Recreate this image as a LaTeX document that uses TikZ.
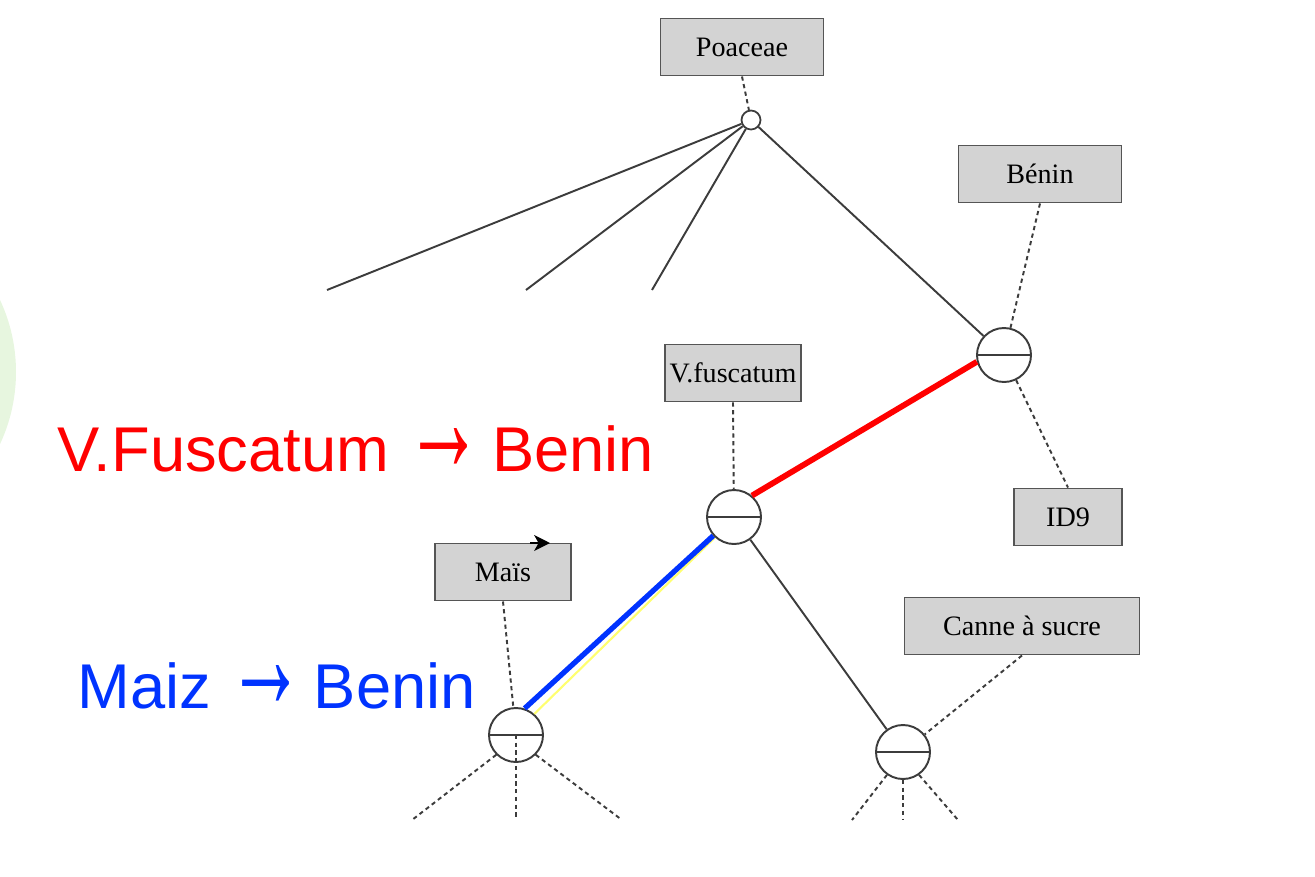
\documentclass[tikz,border=0pt]{standalone}
\usepackage{fontspec}
\usepackage{graphicx}
\setmainfont{Liberation Serif}
\newfontfamily\labelfont{Liberation Sans}
\usetikzlibrary{arrows.meta}
\definecolor{boxfill}{HTML}{D3D3D3}
\definecolor{boxline}{HTML}{555555}
\definecolor{edgecol}{HTML}{3C3C3C}
\definecolor{vfred}{HTML}{FF0000}
\definecolor{mzblue}{HTML}{0033FF}
\definecolor{mzyellow}{HTML}{FFFF70}
\definecolor{bgreen}{HTML}{E7F6DF}
\newcommand{\bigarrow}{\hspace{0.25em}\scalebox{1.25}[2.4]{→}\hspace{0.13em}}
\tikzset{
  taxbox/.style={draw=boxline, fill=boxfill, line width=1.1pt, inner sep=0pt,
    minimum height=57*0.02cm, font=\fontsize{16}{18}\selectfont},
  treenode/.style={circle, draw=edgecol, fill=white, line width=1.1pt, inner sep=0pt,
    minimum size=54*0.02cm},
  rootnode/.style={circle, draw=edgecol, fill=white, line width=1pt, inner sep=0pt,
    minimum size=19*0.02cm},
  edge/.style={draw=edgecol, line width=1.1pt},
  dashline/.style={draw=edgecol, line width=1.1pt, dash pattern=on 2.4pt off 2pt},
  biglabel/.style={anchor=base west, inner sep=0pt, font=\labelfont\fontsize{36}{40}\selectfont},
}
\begin{document}
\begin{tikzpicture}[x=0.02cm,y=-0.02cm]
\useasboundingbox (0,0) rectangle (1315,876);
% green partial disc at the left edge
\begin{scope}
  \clip (0,0) rectangle (1315,876);
  \fill[bgreen] (-154,372) circle (170);
\end{scope}

% boxes
\node[taxbox, minimum width=163*0.02cm] (poa) at (742,47) {Poaceae};
\node[taxbox, minimum width=163*0.02cm] (ben) at (1040,174) {Bénin};
\node[taxbox, minimum width=108*0.02cm] (id9) at (1068,517) {ID9};
\node[taxbox, minimum width=136*0.02cm] (vfb) at (733,373) {V.fuscatum};
\node[taxbox, minimum width=136*0.02cm] (mab) at (503,572) {Maïs};
\node[taxbox, minimum width=235*0.02cm] (cab) at (1022,626) {Canne à sucre};

% tree nodes
\node[rootnode] (root) at (751,120) {};
\node[treenode] (bc) at (1004,355) {};
\node[treenode] (vc) at (734,517) {};
\node[treenode] (mc) at (516,735) {};
\node[treenode] (cc) at (903,752) {};

% free ends
\coordinate (r1) at (327,290);
\coordinate (r2) at (526,290);
\coordinate (r3) at (652,290);
\coordinate (m1) at (412,820);
\coordinate (m2) at (516,820);
\coordinate (m3) at (622,820);
\coordinate (c1) at (852,820);
\coordinate (c2) at (903,820);
\coordinate (c3) at (958,820);
\coordinate (ma1) at (530,543);
\coordinate (ma2) at (550,543);

% solid edges
\draw[edge] (root) -- (r1);
\draw[edge] (root) -- (r2);
\draw[edge] (root) -- (r3);
\draw[edge] (root) -- (bc);
\draw[edge] (vc) -- (cc);

% dashed edges
\draw[dashline] (poa.south) -- (root);
\draw[dashline] (ben.south) -- (bc);
\draw[dashline] (bc) -- (id9.north);
\draw[dashline] (vfb.south) -- (vc);
\draw[dashline] (mab.south) -- (mc);
\draw[dashline] (cab.south) -- (cc);
\draw[dashline] (mc.225) -- (m1);
\draw[dashline] (mc.center) -- (m2);
\draw[dashline] (mc.315) -- (m3);
\draw[dashline] (cc.235) -- (c1);
\draw[dashline] (cc.270) -- (c2);
\draw[dashline] (cc.305) -- (c3);

% highlighted edges
\draw[vfred, line width=3.3pt] (vc.50) -- (bc.194);
\draw[mzyellow, line width=1.2pt] (mc.49) -- (vc.227);
\draw[mzblue, line width=3pt] (mc.72) -- (vc.222);

% horizontal bars in the tree nodes
\foreach \n in {bc,vc,mc,cc}{
  \draw[edgecol, line width=1.1pt] (\n.west) -- (\n.east);
}

% arrow on the Maïs box
\draw[black, line width=1pt, -{Stealth[length=9pt,width=9pt,inset=2.5pt]}] (ma1) -- (ma2);

% labels
\node[biglabel, text=vfred] (lvf) at (57,471) {V.Fuscatum\bigarrow Benin};
\node[biglabel, text=mzblue] (lmz) at (77,708) {Maiz\bigarrow Benin};
\end{tikzpicture}
\end{document}
